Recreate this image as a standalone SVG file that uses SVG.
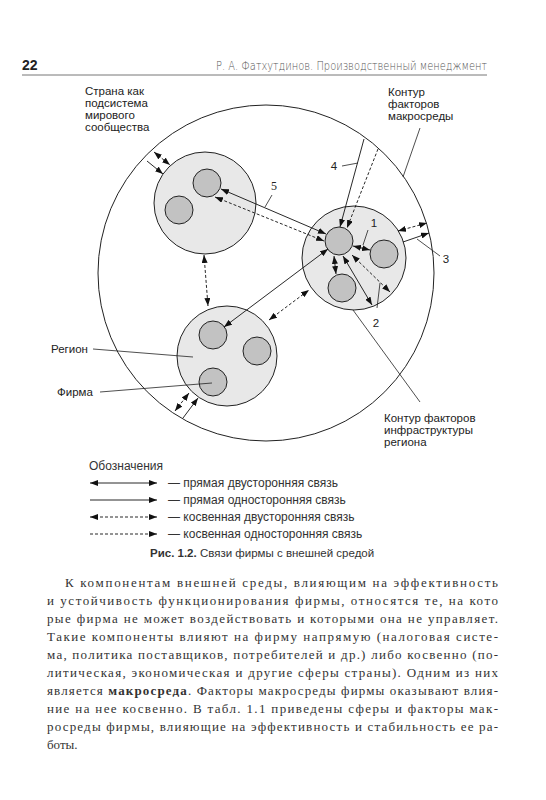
<svg xmlns="http://www.w3.org/2000/svg" width="546" height="800" viewBox="0 0 546 800">
<defs>
<marker id="ah" viewBox="0 0 8 6" refX="8" refY="3" markerWidth="8" markerHeight="6" markerUnits="userSpaceOnUse" orient="auto-start-reverse"><path d="M0,0 L8,3 L0,6 z" fill="#111"/></marker>
</defs>
<style>
.big{fill:none;stroke:#222;stroke-width:1}
.reg{fill:#e8e8e8;stroke:#222;stroke-width:1}
.firm{fill:#c2c2c2;stroke:#222;stroke-width:1}
.s{fill:none;stroke:#111;stroke-width:0.9}
.d{fill:none;stroke:#111;stroke-width:0.9;stroke-dasharray:3 2}
.b{marker-start:url(#ah);marker-end:url(#ah)}
.e{marker-end:url(#ah)}
.lead{fill:none;stroke:#222;stroke-width:0.8}
.lbl{font-family:"Liberation Sans",Arial,sans-serif;font-size:11.5px;fill:#222}
.num{font-family:"Liberation Sans",Arial,sans-serif;font-size:11.5px;fill:#222;text-anchor:middle}
.hdr{font-family:"DejaVu Sans","Liberation Sans",sans-serif;font-size:12px;fill:#555;font-weight:300}
.leg{font-family:"Liberation Sans",Arial,sans-serif;font-size:12px;fill:#333}
.par{font-family:"Liberation Serif","Times New Roman",serif;font-size:13px;fill:#333}
</style>
<rect width="546" height="800" fill="#fff"/>

<g id="header">
<text x="22" y="70" style="font-family:'Liberation Sans',Arial,sans-serif;font-size:14px;font-weight:bold;fill:#222">22</text>
<text x="487" y="70" class="hdr" text-anchor="end" textLength="271" lengthAdjust="spacingAndGlyphs">Р. А. Фатхутдинов. Производственный менеджмент</text>
<line x1="22" y1="75" x2="487" y2="75" stroke="#777" stroke-width="1"/>
</g>

<g id="country">
<circle cx="266" cy="273" r="168" class="big"/>
</g>

<g id="region-a">
<circle cx="205" cy="203" r="51" class="reg"/>
<circle cx="207" cy="183" r="14" class="firm"/>
<circle cx="179" cy="210" r="14" class="firm"/>
</g>
<g id="region-b">
<circle cx="354" cy="258" r="52" class="reg"/>
<circle cx="339" cy="241" r="14" class="firm"/>
<circle cx="384" cy="254" r="14" class="firm"/>
<circle cx="342" cy="288" r="14" class="firm"/>
</g>
<g id="region-c">
<circle cx="227" cy="356" r="50" class="reg"/>
<circle cx="213" cy="335" r="14" class="firm"/>
<circle cx="257" cy="351" r="14" class="firm"/>
<circle cx="213" cy="382" r="14" class="firm"/>
</g>

<g id="connectors">
<line x1="154" y1="152" x2="170" y2="165" class="d b"/>
<line x1="147" y1="161" x2="163" y2="174" class="s e"/>
<line x1="221" y1="189" x2="326" y2="234" class="s b"/>
<line x1="215" y1="197" x2="324" y2="241" class="d b"/>
<line x1="204" y1="255" x2="208" y2="306" class="d b"/>
<line x1="224" y1="327" x2="328" y2="249" class="s b"/>
<line x1="269" y1="320" x2="309" y2="290" class="d b"/>
<line x1="175" y1="411" x2="189" y2="393" class="d b"/>
<line x1="183" y1="418" x2="198" y2="398" class="s e"/>
<line x1="398" y1="231" x2="427" y2="223" class="d b"/>
<line x1="403" y1="242" x2="429" y2="233" class="s e"/>
<line x1="364" y1="139" x2="340" y2="227" class="s e"/>
<line x1="378" y1="149" x2="347" y2="228" class="d e"/>
<line x1="353" y1="246" x2="370" y2="250" class="s b"/>
<line x1="334" y1="256" x2="336" y2="274" class="s b"/>
<line x1="343" y1="256" x2="372" y2="305" class="s b"/>
<line x1="352" y1="255" x2="390" y2="292" class="d b"/>
</g>

<g id="leaders">
<line x1="368" y1="230" x2="363" y2="245" class="lead"/>
<line x1="380" y1="283" x2="377" y2="308" class="lead"/>
<line x1="417" y1="239" x2="440" y2="256" class="lead"/>
<line x1="342" y1="166" x2="358" y2="163" class="lead"/>
<line x1="272" y1="195" x2="265" y2="207" class="lead"/>
<line x1="420" y1="128" x2="403" y2="177" class="lead"/>
<line x1="353" y1="310" x2="420" y2="402" class="lead"/>
<line x1="93" y1="349" x2="193" y2="357" class="lead"/>
<line x1="100" y1="392" x2="212" y2="383" class="lead"/>
</g>

<g id="labels">
<text class="lbl" x="85" y="95">Страна как</text>
<text class="lbl" x="85" y="107">подсистема</text>
<text class="lbl" x="85" y="119">мирового</text>
<text class="lbl" x="85" y="131">сообщества</text>
<text class="lbl" x="388" y="96">Контур</text>
<text class="lbl" x="388" y="108">факторов</text>
<text class="lbl" x="388" y="120">макросреды</text>
<text class="lbl" x="384" y="422">Контур факторов</text>
<text class="lbl" x="384" y="434">инфраструктуры</text>
<text class="lbl" x="384" y="446">региона</text>
<text class="lbl" x="51" y="353">Регион</text>
<text class="lbl" x="57" y="396">Фирма</text>
<text class="num" x="374" y="227">1</text>
<text class="num" x="376" y="327">2</text>
<text class="num" x="446" y="263">3</text>
<text class="num" x="334" y="170">4</text>
<text x="274" y="190" style="font-family:'Liberation Serif',serif;font-size:12px;fill:#222;text-anchor:middle">5</text>
</g>

<g id="legend">
<text class="leg" x="89" y="470">Обозначения</text>
<line x1="90" y1="483" x2="157" y2="483" class="s b"/>
<line x1="90" y1="500" x2="157" y2="500" class="s e"/>
<line x1="90" y1="517" x2="157" y2="517" class="d b"/>
<line x1="90" y1="534" x2="157" y2="534" class="d e"/>
<text class="leg" x="168" y="487">— прямая двусторонняя связь</text>
<text class="leg" x="168" y="504">— прямая односторонняя связь</text>
<text class="leg" x="168" y="521">— косвенная двусторонняя связь</text>
<text class="leg" x="168" y="538">— косвенная односторонняя связь</text>
<text class="leg" x="150" y="557" style="font-size:11.5px"><tspan font-weight="bold">Рис. 1.2.</tspan> Связи фирмы с внешней средой</text>
</g>

<g id="paragraph">
<text class="par" x="65" y="587" textLength="433" lengthAdjust="spacing">К компонентам внешней среды, влияющим на эффективность</text>
<text class="par" x="47" y="605" textLength="451" lengthAdjust="spacing">и устойчивость функционирования фирмы, относятся те, на кото</text>
<text class="par" x="47" y="623" textLength="451" lengthAdjust="spacing">рые фирма не может воздействовать и которыми она не управляет.</text>
<text class="par" x="47" y="641" textLength="451" lengthAdjust="spacing">Такие компоненты влияют на фирму напрямую (налоговая систе-</text>
<text class="par" x="47" y="659" textLength="451" lengthAdjust="spacing">ма, политика поставщиков, потребителей и др.) либо косвенно (по-</text>
<text class="par" x="47" y="677" textLength="451" lengthAdjust="spacing">литическая, экономическая и другие сферы страны). Одним из них</text>
<text class="par" x="47" y="695" textLength="451" lengthAdjust="spacing">является <tspan font-weight="bold">макросреда</tspan>. Факторы макросреды фирмы оказывают влия-</text>
<text class="par" x="47" y="713" textLength="451" lengthAdjust="spacing">ние на нее косвенно. В табл. 1.1 приведены сферы и факторы мак-</text>
<text class="par" x="47" y="731" textLength="451" lengthAdjust="spacing">росреды фирмы, влияющие на эффективность и стабильность ее ра-</text>
<text class="par" x="47" y="749">боты.</text>
</g>
</svg>
